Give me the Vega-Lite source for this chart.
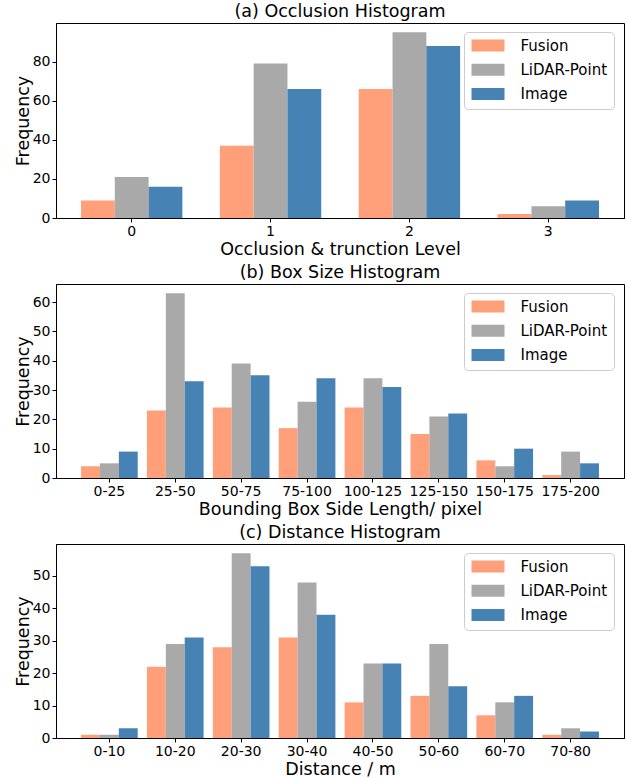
{
  "$schema": "https://vega.github.io/schema/vega-lite/v6.json",
  "padding": {"left": 13, "top": 2, "right": 0, "bottom": 0},
  "spacing": 5,
  "datasets": {
    "occ": [
      {"cat": "0", "series": "Fusion", "freq": 9},
      {"cat": "0", "series": "LiDAR-Point", "freq": 21},
      {"cat": "0", "series": "Image", "freq": 16},
      {"cat": "1", "series": "Fusion", "freq": 37},
      {"cat": "1", "series": "LiDAR-Point", "freq": 79},
      {"cat": "1", "series": "Image", "freq": 66},
      {"cat": "2", "series": "Fusion", "freq": 66},
      {"cat": "2", "series": "LiDAR-Point", "freq": 95},
      {"cat": "2", "series": "Image", "freq": 88},
      {"cat": "3", "series": "Fusion", "freq": 2},
      {"cat": "3", "series": "LiDAR-Point", "freq": 6},
      {"cat": "3", "series": "Image", "freq": 9}
    ],
    "box": [
      {"cat": "0-25", "series": "Fusion", "freq": 4},
      {"cat": "0-25", "series": "LiDAR-Point", "freq": 5},
      {"cat": "0-25", "series": "Image", "freq": 9},
      {"cat": "25-50", "series": "Fusion", "freq": 23},
      {"cat": "25-50", "series": "LiDAR-Point", "freq": 63},
      {"cat": "25-50", "series": "Image", "freq": 33},
      {"cat": "50-75", "series": "Fusion", "freq": 24},
      {"cat": "50-75", "series": "LiDAR-Point", "freq": 39},
      {"cat": "50-75", "series": "Image", "freq": 35},
      {"cat": "75-100", "series": "Fusion", "freq": 17},
      {"cat": "75-100", "series": "LiDAR-Point", "freq": 26},
      {"cat": "75-100", "series": "Image", "freq": 34},
      {"cat": "100-125", "series": "Fusion", "freq": 24},
      {"cat": "100-125", "series": "LiDAR-Point", "freq": 34},
      {"cat": "100-125", "series": "Image", "freq": 31},
      {"cat": "125-150", "series": "Fusion", "freq": 15},
      {"cat": "125-150", "series": "LiDAR-Point", "freq": 21},
      {"cat": "125-150", "series": "Image", "freq": 22},
      {"cat": "150-175", "series": "Fusion", "freq": 6},
      {"cat": "150-175", "series": "LiDAR-Point", "freq": 4},
      {"cat": "150-175", "series": "Image", "freq": 10},
      {"cat": "175-200", "series": "Fusion", "freq": 1},
      {"cat": "175-200", "series": "LiDAR-Point", "freq": 9},
      {"cat": "175-200", "series": "Image", "freq": 5}
    ],
    "dist": [
      {"cat": "0-10", "series": "Fusion", "freq": 1},
      {"cat": "0-10", "series": "LiDAR-Point", "freq": 1},
      {"cat": "0-10", "series": "Image", "freq": 3},
      {"cat": "10-20", "series": "Fusion", "freq": 22},
      {"cat": "10-20", "series": "LiDAR-Point", "freq": 29},
      {"cat": "10-20", "series": "Image", "freq": 31},
      {"cat": "20-30", "series": "Fusion", "freq": 28},
      {"cat": "20-30", "series": "LiDAR-Point", "freq": 57},
      {"cat": "20-30", "series": "Image", "freq": 53},
      {"cat": "30-40", "series": "Fusion", "freq": 31},
      {"cat": "30-40", "series": "LiDAR-Point", "freq": 48},
      {"cat": "30-40", "series": "Image", "freq": 38},
      {"cat": "40-50", "series": "Fusion", "freq": 11},
      {"cat": "40-50", "series": "LiDAR-Point", "freq": 23},
      {"cat": "40-50", "series": "Image", "freq": 23},
      {"cat": "50-60", "series": "Fusion", "freq": 13},
      {"cat": "50-60", "series": "LiDAR-Point", "freq": 29},
      {"cat": "50-60", "series": "Image", "freq": 16},
      {"cat": "60-70", "series": "Fusion", "freq": 7},
      {"cat": "60-70", "series": "LiDAR-Point", "freq": 11},
      {"cat": "60-70", "series": "Image", "freq": 13},
      {"cat": "70-80", "series": "Fusion", "freq": 1},
      {"cat": "70-80", "series": "LiDAR-Point", "freq": 3},
      {"cat": "70-80", "series": "Image", "freq": 2}
    ]
  },
  "vconcat": [
    {
      "title": "(a) Occlusion Histogram",
      "width": 568,
      "height": 195,
      "data": {"name": "occ"},
      "mark": {"type": "bar"},
      "encoding": {
        "x": {"field": "cat", "type": "nominal", "sort": null, "title": "Occlusion & trunction Level",
              "scale": {"paddingInner": 0.27, "paddingOuter": 0.18}},
        "xOffset": {"field": "series", "type": "nominal", "sort": ["Fusion", "LiDAR-Point", "Image"], "scale": {"paddingInner": 0}},
        "y": {"field": "freq", "type": "quantitative", "title": "Frequency",
              "scale": {"domain": [0, 99.75], "nice": false}, "axis": {"values": [0, 20, 40, 60, 80]}},
        "color": {"field": "series", "type": "nominal", "sort": ["Fusion", "LiDAR-Point", "Image"],
                  "scale": {"domain": ["Fusion", "LiDAR-Point", "Image"], "range": ["#FFA07A", "#A9A9A9", "#4682B4"]},
                  "legend": {"title": null}}
      }
    },
    {
      "title": "(b) Box Size Histogram",
      "width": 568,
      "height": 194,
      "data": {"name": "box"},
      "mark": {"type": "bar"},
      "encoding": {
        "x": {"field": "cat", "type": "nominal", "sort": null, "title": "Bounding Box Side Length/ pixel",
              "scale": {"paddingInner": 0.14, "paddingOuter": 0.38}},
        "xOffset": {"field": "series", "type": "nominal", "sort": ["Fusion", "LiDAR-Point", "Image"], "scale": {"paddingInner": 0}},
        "y": {"field": "freq", "type": "quantitative", "title": "Frequency",
              "scale": {"domain": [0, 66.15], "nice": false}, "axis": {"values": [0, 10, 20, 30, 40, 50, 60]}},
        "color": {"field": "series", "type": "nominal", "sort": ["Fusion", "LiDAR-Point", "Image"],
                  "scale": {"domain": ["Fusion", "LiDAR-Point", "Image"], "range": ["#FFA07A", "#A9A9A9", "#4682B4"]},
                  "legend": {"title": null}}
      }
    },
    {
      "title": "(c) Distance Histogram",
      "width": 568,
      "height": 194,
      "data": {"name": "dist"},
      "mark": {"type": "bar"},
      "encoding": {
        "x": {"field": "cat", "type": "nominal", "sort": null, "title": "Distance / m",
              "scale": {"paddingInner": 0.14, "paddingOuter": 0.38}},
        "xOffset": {"field": "series", "type": "nominal", "sort": ["Fusion", "LiDAR-Point", "Image"], "scale": {"paddingInner": 0}},
        "y": {"field": "freq", "type": "quantitative", "title": "Frequency",
              "scale": {"domain": [0, 59.85], "nice": false}, "axis": {"values": [0, 10, 20, 30, 40, 50]}},
        "color": {"field": "series", "type": "nominal", "sort": ["Fusion", "LiDAR-Point", "Image"],
                  "scale": {"domain": ["Fusion", "LiDAR-Point", "Image"], "range": ["#FFA07A", "#A9A9A9", "#4682B4"]},
                  "legend": {"title": null}}
      }
    }
  ],
  "resolve": {"scale": {"color": "independent", "x": "independent", "xOffset": "independent", "y": "independent"}, "legend": {"color": "independent"}},
  "config": {
    "font": "DejaVu Sans",
    "view": {"stroke": "black", "strokeWidth": 1},
    "axis": {
      "grid": false, "domainColor": "black", "tickColor": "black", "labelColor": "black", "titleColor": "black",
      "labelFontSize": 14, "titleFontSize": 17.5, "titleFontWeight": "normal", "tickSize": 4, "labelPadding": 2, "titlePadding": 2, "labelAngle": 0
    },
    "axisY": {"titlePadding": 0},
    "title": {"fontSize": 17.5, "fontWeight": "normal", "color": "black", "offset": 3},
    "legend": {
      "orient": "none", "legendX": 408, "legendY": 9, "fillColor": "white", "strokeColor": "#cccccc", "cornerRadius": 4,
      "padding": 6, "labelFontSize": 15, "labelColor": "black", "labelOffset": 25, "symbolOffset": 10.5,
      "symbolType": "M-2.75,-1H2.75V1H-2.75Z", "symbolSize": 144, "symbolStrokeWidth": 0, "symbolOpacity": 1, "rowPadding": 8.3
    }
  }
}
